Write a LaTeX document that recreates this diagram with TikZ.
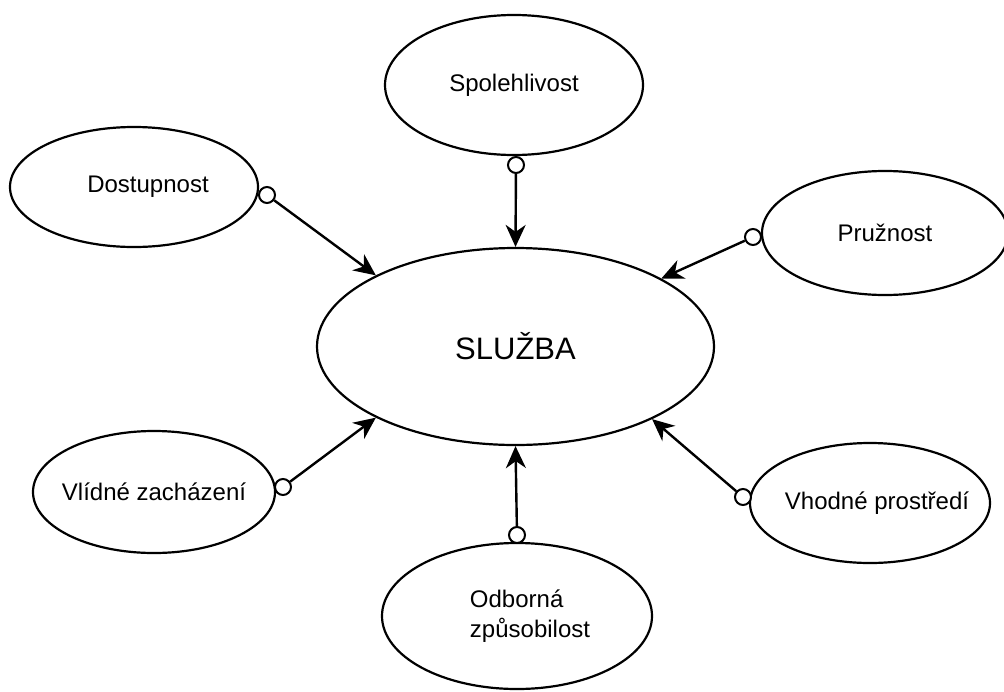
\documentclass[tikz,border=0pt]{standalone}
\usepackage{fontspec}
\setmainfont{Liberation Sans}
\usetikzlibrary{shapes.geometric,arrows.meta}

\begin{document}
\begin{tikzpicture}[
  x=1pt, y=-1pt,
  >={Stealth[length=22pt,width=20pt,inset=7pt]},
  facet/.style={draw, ellipse, line width=2.2pt, inner sep=0pt,
                font=\fontsize{24}{30}\selectfont},
  core/.style={draw, ellipse, line width=2.2pt, inner sep=0pt,
               minimum width=397pt, minimum height=197pt,
               font=\fontsize{31}{36}\selectfont},
  knob/.style={draw, circle, fill=white, line width=2pt,
               minimum size=16pt, inner sep=0pt},
  link/.style={->, line width=2.4pt},
]
\useasboundingbox (0,0) rectangle (1004,691);

\node[core] (svc) at (515.5,346.5) {SLUŽBA};

\node[facet, minimum width=258pt, minimum height=140pt] (spol) at (514,85) {Spolehlivost};
\node[facet, minimum width=248pt, minimum height=120pt] (dost) at (134,187)
  {\makebox[0pt]{\hspace*{28pt}Dostupnost}};
\node[facet, minimum width=246pt, minimum height=124pt] (pruz) at (885,233) {Pružnost};
\node[facet, minimum width=242pt, minimum height=122pt] (vlid) at (154,492)
  {\makebox[0pt]{Vlídné zacházení}};
\node[facet, minimum width=240pt, minimum height=120pt] (vhod) at (870,503)
  {\makebox[0pt]{\hspace*{14pt}Vhodné prostředí}};
\node[facet, minimum width=270pt, minimum height=146pt, align=left] (odb) at (517,616)
  {\hspace*{26pt}Odborná\\\hspace*{26pt}způsobilost};

% attachment points
\node[knob] (kspol) at (516,165) {};
\node[knob] (kdost) at (267,195) {};
\node[knob] (kpruz) at (753,237) {};
\node[knob] (kvlid) at (283,487) {};
\node[knob] (kvhod) at (743,497) {};
\node[knob] (kodb)  at (517,535) {};

\foreach \k/\a in {kspol/90, kdost/153.4, kpruz/25.4,
                   kvlid/207.5, kvhod/332.6, kodb/270}
  \draw[link] (\k) -- (svc.\a);

\end{tikzpicture}
\end{document}
